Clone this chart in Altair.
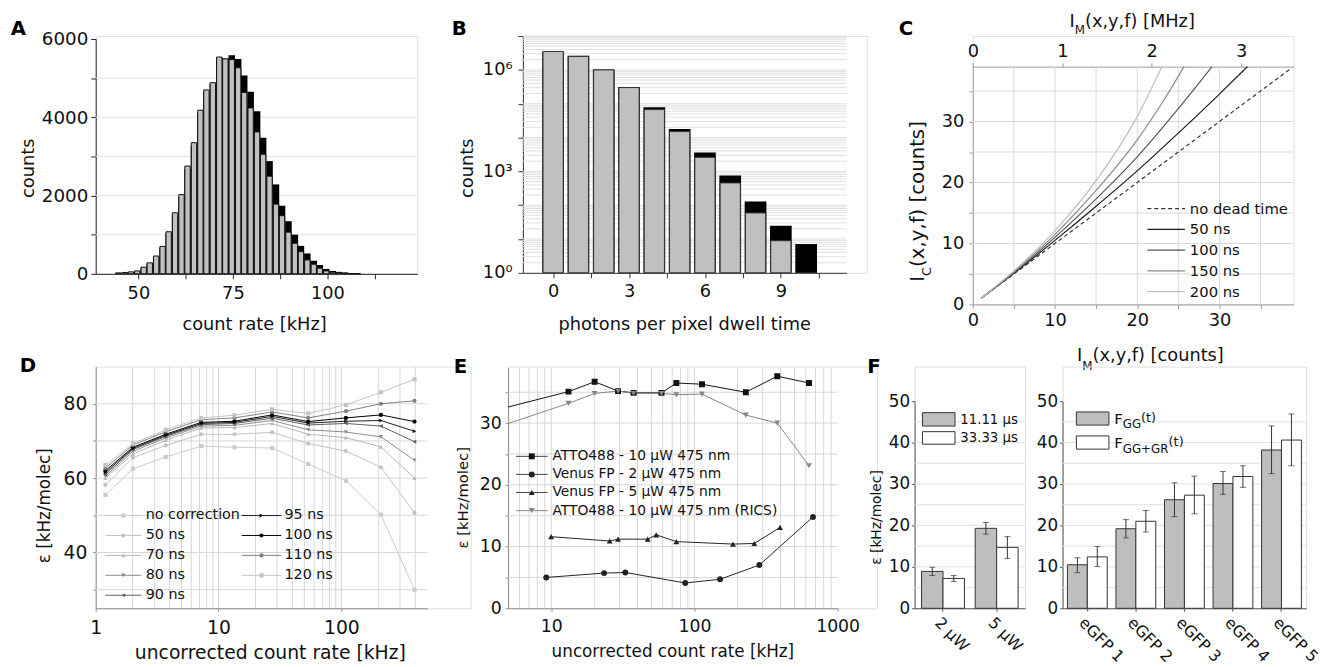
import altair as alt
import pandas as pd

FONT = "DejaVu Sans"

# ---------------- A: count-rate histogram ----------------
A_RATE = [44.7, 46.4, 48.0, 49.7, 51.4, 53.0, 54.7, 56.4, 58.0, 59.7,
          61.4, 63.0, 64.7, 66.4, 68.0, 69.7, 71.4, 73.0, 74.7, 76.4,
          78.0, 79.7, 81.4, 83.0, 84.7, 86.4, 88.0, 89.7, 91.4, 93.0,
          94.7, 96.4, 98.0, 99.7, 101.4, 103.0, 104.7, 106.4, 108.0]
A_GRAY = [25, 35, 50, 75, 170, 280, 455, 700, 1075, 1560,
          2025, 2755, 3350, 4180, 4700, 4885, 5540, 5490, 5475, 5265,
          4635, 4240, 3625, 3055, 2495, 1780, 1485, 1065, 780, 565,
          355, 245, 145, 75, 40, 25, 15, 8, 3]
A_BLACK = [20, 30, 45, 70, 160, 265, 430, 670, 1030, 1500,
           1960, 2680, 3280, 4120, 4650, 4860, 5520, 5500, 5585, 5490,
           5070, 4650, 4155, 3475, 2880, 2285, 1740, 1345, 1000, 715,
           520, 335, 225, 125, 75, 50, 35, 15, 8]
A_XTICKS = [50, 62.5, 75, 87.5, 100, 112.5]
A_YTICKS = [0, 1000, 2000, 3000, 4000, 5000, 6000]
A_GRID = [1000, 2000, 3000, 4000, 5000]

# ---------------- B: photons per pixel dwell time ----------------
B_PHOTONS = [0, 1, 2, 3, 4, 5, 6, 7, 8, 9, 10]
B_GRAY = [3.5e6, 2.5e6, 1.0e6, 3.0e5, 6.7e4, 1.5e4, 2.6e3, 455, 59, 8.9, None]
B_BLACK = [3.5e6, 2.6e6, 1.02e6, 3.1e5, 7.9e4, 1.8e4, 3.6e3, 760, 129, 24.5, 7.1]
B_BASE = 1  # bottom of the log axis (10^0)
B_XTICKS = [0, 1.5, 3, 4.5, 6, 7.5, 9, 10.5]
B_YTICKS = [1, 10, 100, 1000, 1e4, 1e5, 1e6, 1e7]
B_GRID = [m * 10 ** k for k in range(7) for m in range(1, 10) if m * 10 ** k > 1] + [1e7]

# ---------------- C: dead-time curves ----------------
C_SERIES = ["no dead time", "50 ns", "100 ns", "150 ns", "200 ns"]
C_IM = [[1, 38.8],
        [1, 5, 10, 15, 20, 25, 30, 33.4],
        [1, 5, 10, 15, 20, 25, 29.1],
        [1, 5, 10, 15, 20, 23, 25.7],
        [1, 5, 10, 15, 20, 23]]
C_IC = [[1, 38.8],
        [1.0, 5.1, 10.5, 16.1, 21.9, 28.1, 34.5, 39.0],
        [1.0, 5.2, 11.0, 17.3, 24.2, 32.1, 39.0],
        [1.0, 5.35, 11.5, 18.7, 27.0, 33.0, 39.0],
        [1.0, 5.5, 12.1, 20.3, 30.8, 39.0]]
C_COLORS = ["#333333", "#1a1a1a", "#555555", "#8a8a8a", "#bdbdbd"]
C_TICKS = [0, 5, 10, 15, 20, 25, 30, 35]
C_MHZ_TICKS = [0, 0.5, 1, 1.5, 2, 2.5, 3, 3.5]
C_GRID = [5, 10, 15, 20, 25, 30, 35]

# ---------------- D: brightness vs count rate, dead-time corrections ----------------
D_RATE = [1.20, 2.01, 3.72, 7.23, 13.5, 27.3, 53.7, 109, 210, 394]
D_SERIES = ["no correction", "50 ns", "70 ns", "80 ns", "90 ns",
            "95 ns", "100 ns", "110 ns", "120 ns"]
D_EPS = [
    [55.5, 62.5, 65.7, 68.6, 68.3, 68.1, 63.8, 59.3, 50.2, 30.0],
    [58.2, 65.5, 68.8, 71.8, 71.8, 72.3, 69.3, 67.3, 62.9, 50.7],
    [60.0, 66.5, 70.2, 73.5, 73.6, 74.7, 71.8, 70.9, 68.4, 60.0],
    [60.5, 67.2, 70.8, 74.0, 74.2, 75.5, 73.0, 72.4, 71.1, 64.8],
    [61.0, 67.7, 71.2, 74.4, 74.7, 76.1, 74.3, 74.7, 74.0, 69.8],
    [61.5, 68.0, 71.5, 74.7, 75.0, 76.6, 74.8, 75.3, 75.5, 72.6],
    [62.0, 68.3, 71.8, 75.0, 75.3, 77.0, 75.2, 76.2, 77.0, 75.2],
    [62.7, 68.9, 72.5, 75.7, 76.2, 77.8, 76.2, 78.0, 80.0, 80.8],
    [63.5, 69.3, 73.0, 76.2, 76.9, 78.5, 77.4, 79.7, 83.1, 86.6],
]
D_COLORS = ["#cbcbcb", "#c2c2c2", "#b8b8b8", "#8c8c8c", "#5e5e5e",
            "#1a1a1a", "#000000", "#808080", "#c4c4c4"]
D_SHAPES = ["square", "circle", "triangle-up", "triangle-down", "triangle-left",
            "triangle-right", "circle", "circle", "square"]
D_VGRID = [2, 3, 4, 5, 6, 7, 8, 9, 10, 20, 30, 40, 50, 60, 70, 80, 90, 100, 200, 300, 400]
D_HGRID = [30, 40, 50, 60, 70, 80]

# ---------------- E: brightness of dyes / FPs ----------------
E_SERIES = ["ATTO488 - 10 µW 475 nm", "Venus FP - 2 µW 475 nm",
            "Venus FP - 5 µW 475 nm", "ATTO488 - 10 µW 475 nm (RICS)"]
E_RATE = [
    [3.0, 13.2, 20.1, 29.3, 37.6, 58.9, 74.8, 113, 228.6, 379, 631],
    [9.24, 23.4, 32.9, 86.3, 151, 284, 673],
    [10.0, 25.6, 29.3, 47.2, 54.1, 74.8, 185.8, 262, 396],
    [3.0, 13.2, 20.1, 29.3, 37.6, 58.9, 74.8, 113, 228.6, 379, 631],
]
E_EPS = [
    [31.3, 35.1, 36.7, 35.2, 34.9, 34.9, 36.5, 36.3, 35.0, 37.6, 36.5],
    [5.0, 5.7, 5.8, 4.1, 4.7, 7.0, 14.8],
    [11.6, 10.9, 11.2, 11.2, 11.9, 10.8, 10.4, 10.5, 13.1],
    [28.2, 33.2, 34.8, 35.2, 34.8, 34.8, 34.6, 34.7, 31.3, 30.0, 23.1],
]
E_COLORS = ["#111111", "#222222", "#222222", "#858585"]
E_SHAPES = ["square", "circle", "triangle-up", "triangle-down"]
E_VGRID = [6, 7, 8, 9, 10, 20, 30, 40, 50, 60, 70, 80, 90,
           100, 200, 300, 400, 500, 600, 700, 800, 900]
E_HGRID = [5, 10, 15, 20, 25, 30, 35]
E_YTICKS = [0, 5, 10, 15, 20, 25, 30, 35]

# ---------------- F: bar charts ----------------
F1_CATS = ["2 µW", "5 µW"]
F1_LEGEND = ["11.11 µs", "33.33 µs"]
F1_G = [8.9, 19.3]
F1_G_LO = [7.9, 17.9]
F1_G_HI = [9.9, 20.7]
F1_W = [7.2, 14.7]
F1_W_LO = [6.5, 12.0]
F1_W_HI = [7.9, 17.3]

F2_CATS = ["eGFP 1", "eGFP 2", "eGFP 3", "eGFP 4", "eGFP 5"]
F2_G = [10.5, 19.2, 26.2, 30.1, 38.2]
F2_G_LO = [8.6, 17.0, 22.1, 27.5, 32.5]
F2_G_HI = [12.2, 21.4, 30.3, 33.0, 44.0]
F2_W = [12.4, 21.0, 27.3, 31.8, 40.6]
F2_W_LO = [10.1, 18.4, 22.8, 29.2, 34.4]
F2_W_HI = [14.9, 23.6, 31.9, 34.4, 46.9]
F_YTICKS = [0, 10, 20, 30, 40, 50]
F_GRID = [5, 10, 15, 20, 25, 30, 35, 40, 45]

# ---------------- helpers ----------------
ONE = pd.DataFrame({"k": [0]})


def T(s, x, y, size, align="left", baseline="alphabetic", angle=0, bold=False, color="#111111"):
    kw = dict(text=s, align=align, baseline=baseline, fontSize=size, font=FONT, color=color)
    if angle:
        kw["angle"] = angle
    if bold:
        kw["fontWeight"] = "bold"
    return alt.Chart(ONE).mark_text(**kw).encode(x=alt.value(x), y=alt.value(y))


def HL(x1, x2, y, color, width=1.0, dash=None):
    kw = dict(color=color, strokeWidth=width)
    if dash:
        kw["strokeDash"] = dash
    return alt.Chart(ONE).mark_rule(**kw).encode(x=alt.value(x1), x2=alt.value(x2), y=alt.value(y))


def PT(x, y, shape, color, size):
    return alt.Chart(ONE).mark_point(shape=shape, filled=True, size=size, color=color,
                                     opacity=1).encode(x=alt.value(x), y=alt.value(y))


def RECT(x1, x2, y1, y2, fill):
    return alt.Chart(ONE).mark_rect(fill=fill, stroke="#333333", strokeWidth=1).encode(
        x=alt.value(x1), x2=alt.value(x2), y=alt.value(y1), y2=alt.value(y2))


def AX(size, values=None, expr=None, color="#444444", tick=4, pad=4, fmt=None, **kw):
    d = dict(labelFontSize=size, labelFont=FONT, labelColor="#111111", domainColor=color,
             tickColor=color, tickSize=tick, labelPadding=pad, grid=False, title=None,
             labelFlush=False, labelOverlap=False, domainWidth=1, tickWidth=1)
    if values is not None:
        d["values"] = values
    if expr:
        d["labelExpr"] = expr
    if fmt:
        d["format"] = fmt
    d.update(kw)
    return alt.Axis(**d)


def vgrid(vals, xscale, xaxis, y1, y2, color):
    return alt.Chart(pd.DataFrame({"g": vals})).mark_rule(color=color, strokeWidth=1).encode(
        x=alt.X("g:Q", scale=xscale, axis=xaxis), y=alt.value(y1), y2=alt.value(y2))


def hgrid(vals, yscale, yaxis, x1, x2, color):
    return alt.Chart(pd.DataFrame({"g": vals})).mark_rule(color=color, strokeWidth=1).encode(
        y=alt.Y("g:Q", scale=yscale, axis=yaxis), x=alt.value(x1), x2=alt.value(x2))


# ================= Panel A =================
ax_ = alt.Scale(domain=[40, 122.5], nice=False, zero=False)
ay_ = alt.Scale(domain=[0, 6000], range=[241, 3], nice=False, zero=False)
AXA_X = AX(18, A_XTICKS, "datum.value % 25 == 0 ? datum.label : ''", color="#222222", tick=5, pad=6)
AXA_Y = AX(18.5, A_YTICKS, "datum.value % 2000 == 0 ? datum.label : ''", color="#222222",
           tick=5, pad=3, fmt="d")
dfA = pd.DataFrame({"rate": A_RATE, "gray": A_GRAY, "black": A_BLACK})
A = alt.layer(
    hgrid(A_GRID, ay_, AXA_Y, 0, 326, "#e3e3e3"),
    alt.Chart(dfA).mark_bar(orient="vertical", size=6.6, fill="#000000").encode(
        x=alt.X("rate:Q", scale=ax_, axis=AXA_X),
        y=alt.Y("black:Q", scale=ay_, axis=AXA_Y)),
    alt.Chart(dfA).mark_bar(orient="vertical", size=5.4, fill="#c0c0c0", stroke="#111111",
                            strokeWidth=1).encode(
        x=alt.X("rate:Q", scale=ax_, axis=AXA_X),
        y=alt.Y("gray:Q", scale=ay_, axis=AXA_Y)),
    T("A", -86, -1, 20, bold=True, color="#000000"),
    T("counts", -68, 134, 18, align="center", baseline="middle", angle=270),
    T("count rate [kHz]", 161, 293, 18, align="center", baseline="middle"),
).properties(width=326, height=241)

# ================= Panel B =================
bx = alt.Scale(domain=[-1, 11.4], range=[0, 328], nice=False, zero=False)
by = alt.Scale(type="log", domain=[1, 1e7], nice=False)
AXB_X = AX(18, B_XTICKS, "datum.value % 3 == 0 ? datum.label : ''", color="#333333", tick=5, pad=5)
AXB_Y = AX(18, B_YTICKS,
           "datum.value == 1 ? '10⁰' : datum.value == 1000 ? '10³' : datum.value == 1000000 ? '10⁶' : ''",
           color="#333333", tick=5, pad=6)
dfB = pd.DataFrame({"n": B_PHOTONS, "gray": B_GRAY, "black": B_BLACK})
dfB["base"] = B_BASE
dfBg = dfB.dropna()
B = alt.layer(
    hgrid(B_GRID, by, AXB_Y, 0, 328, "#e0e0e0"),
    alt.Chart(dfB).mark_bar(orient="vertical", size=22, fill="#000000").encode(
        x=alt.X("n:Q", scale=bx, axis=AXB_X),
        y=alt.Y("black:Q", scale=by, axis=AXB_Y),
        y2=alt.Y2("base:Q")),
    alt.Chart(dfBg).mark_bar(orient="vertical", size=20.5, fill="#c0c0c0", stroke="#333333",
                             strokeWidth=1).encode(
        x=alt.X("n:Q", scale=bx, axis=AXB_X),
        y=alt.Y("gray:Q", scale=by, axis=AXB_Y),
        y2=alt.Y2("base:Q")),
    T("B", -72, -1, 20, bold=True, color="#000000"),
    T("counts", -56, 134, 18, align="center", baseline="middle", angle=270),
    T("photons per pixel dwell time", 164, 293, 18, align="center", baseline="middle"),
).properties(width=349, height=240)

# ================= Panel C =================
cx = alt.Scale(domain=[0, 39], nice=False, zero=False)
cy = alt.Scale(domain=[0, 39], range=[272, 31], nice=False, zero=False)
AXC_X = AX(18, C_TICKS, "datum.value % 10 == 0 ? datum.label : ''", color="#9a9a9a",
           tick=4, pad=3, orient="bottom")
AXC_Y = AX(18, C_TICKS, "datum.value % 10 == 0 ? datum.label : ''", color="#9a9a9a",
           tick=4, pad=5)
c_layers = [vgrid(C_GRID, cx, AXC_X, 31, 272, "#d8d8d8"),
            hgrid(C_GRID, cy, AXC_Y, 0, 325, "#d8d8d8")]
for i, (name, xs, ys, col) in enumerate(zip(C_SERIES, C_IM, C_IC, C_COLORS)):
    dfc = pd.DataFrame({"g": xs, "ic": ys})
    kw = dict(color=col, strokeWidth=1.2, interpolate="monotone")
    if i == 0:
        kw["strokeDash"] = [4, 3]
    c_layers.append(alt.Chart(dfc).mark_line(**kw).encode(
        x=alt.X("g:Q", scale=cx, axis=AXC_X), y=alt.Y("ic:Q", scale=cy, axis=AXC_Y)))
for i, (name, col) in enumerate(zip(C_SERIES, C_COLORS)):
    yy = 175 + 21 * i
    c_layers.append(HL(177, 215, yy, col, 1.2, [4, 3] if i == 0 else None))
    c_layers.append(T(name, 220, yy, 15, baseline="middle"))
c_layers += [
    T("C", -75, -1, 20, bold=True, color="#000000"),
    T("I", 98, -9, 18), T("M", 103.3, -2, 12), T("(x,y,f) [MHz]", 113.7, -9, 18),
    T("I", -49, 249, 20, angle=270), T("C", -42, 243.1, 13, angle=270),
    T("(x,y,f) [counts]", -49, 234, 20, angle=270),
]
c_main = alt.layer(*c_layers)
c_mhz = alt.Chart(pd.DataFrame({"mhz": [0.0, 3.583]})).mark_point(opacity=0).encode(
    x=alt.X("mhz:Q", scale=alt.Scale(domain=[0, 3.583], nice=False, zero=False),
            axis=AX(18, C_MHZ_TICKS, "datum.value % 1 == 0 ? datum.label : ''",
                    color="#9a9a9a", tick=4, pad=2, fmt="d", orient="top", offset=-31)))
C = alt.layer(c_main, c_mhz).resolve_scale(x="independent").properties(width=325, height=272)

# ================= Panel D =================
dx = alt.Scale(type="log", domain=[1, 500], range=[0, 336], nice=False)
dy = alt.Scale(domain=[25, 90], nice=False, zero=False)
AXD_X = AX(19, [1, 10, 100], None, color="#8a8a8a", tick=3, pad=8, fmt="d")
AXD_Y = AX(19, D_HGRID, "datum.value % 20 == 0 ? datum.label : ''", color="#8a8a8a", tick=3, pad=6)
rows = []
for s, vals in zip(D_SERIES, D_EPS):
    for xv, v in zip(D_RATE, vals):
        rows.append({"s": s, "g": xv, "eps": v})
dfD = pd.DataFrame(rows)
colD = alt.Color("s:N", scale=alt.Scale(domain=D_SERIES, range=D_COLORS), legend=None)
shD = alt.Shape("s:N", scale=alt.Scale(domain=D_SERIES, range=D_SHAPES), legend=None)
d_layers = [
    vgrid(D_VGRID, dx, AXD_X, 0, 245, "#d6d6d6"),
    hgrid(D_HGRID, dy, AXD_Y, 0, 336, "#d6d6d6"),
    alt.Chart(dfD).mark_line(strokeWidth=1).encode(
        x=alt.X("g:Q", scale=dx, axis=AXD_X), y=alt.Y("eps:Q", scale=dy, axis=AXD_Y), color=colD),
    alt.Chart(dfD).mark_point(filled=True, size=18, opacity=1).encode(
        x=alt.X("g:Q", scale=dx, axis=AXD_X), y=alt.Y("eps:Q", scale=dy, axis=AXD_Y),
        color=colD, shape=shD),
]
for i, (name, col, shp) in enumerate(zip(D_SERIES, D_COLORS, D_SHAPES)):
    if i < 5:
        lx1, lx2, mx, tx, yy = 9.7, 46.3, 28, 50.7, 151 + 20.2 * i
    else:
        lx1, lx2, mx, tx, yy = 148, 188, 168, 191.3, 151 + 20.2 * (i - 5)
    d_layers += [HL(lx1, lx2, yy, col, 1), PT(mx, yy, shp, col, 18),
                 T(name, tx, yy, 14.5, baseline="middle")]
d_layers += [
    T("D", -77, 6, 20, bold=True, color="#000000"),
    T("ε [kHz/molec]", -51, 141, 17, align="center", baseline="middle", angle=270),
    T("uncorrected count rate [kHz]", 177, 290, 19, align="center", baseline="middle"),
]
D = alt.layer(*d_layers).properties(width=380, height=245)

# ================= Panel E =================
ex = alt.Scale(type="log", domain=[5, 1000], range=[0, 334], nice=False)
ey = alt.Scale(domain=[0, 39], range=[245, 1], nice=False, zero=False)
AXE_X = AX(17.5, [10, 100, 1000], None, color="#8a8a8a", tick=3, pad=7, fmt="d")
AXE_Y = AX(17.5, E_YTICKS, "datum.value % 10 == 0 ? datum.label : ''", color="#8a8a8a",
           tick=3, pad=4)
rows = []
for s, xs, vs in zip(E_SERIES, E_RATE, E_EPS):
    for xv, v in zip(xs, vs):
        rows.append({"s": s, "g": xv, "eps": v})
dfE = pd.DataFrame(rows)
colE = alt.Color("s:N", scale=alt.Scale(domain=E_SERIES, range=E_COLORS), legend=None)
shE = alt.Shape("s:N", scale=alt.Scale(domain=E_SERIES, range=E_SHAPES), legend=None)
e_layers = [
    vgrid(E_VGRID, ex, AXE_X, 1, 245, "#d6d6d6"),
    hgrid(E_HGRID, ey, AXE_Y, 0, 334, "#d6d6d6"),
    alt.Chart(dfE).mark_line(strokeWidth=1, clip=True).encode(
        x=alt.X("g:Q", scale=ex, axis=AXE_X), y=alt.Y("eps:Q", scale=ey, axis=AXE_Y), color=colE),
    alt.Chart(dfE).mark_point(filled=True, size=36, opacity=1, clip=True).encode(
        x=alt.X("g:Q", scale=ex, axis=AXE_X), y=alt.Y("eps:Q", scale=ey, axis=AXE_Y),
        color=colE, shape=shE),
]
for i, (name, col, shp) in enumerate(zip(E_SERIES, E_COLORS, E_SHAPES)):
    yy = 91 + 18.33 * i
    lc = "#444444" if i < 3 else "#8a8a8a"
    e_layers += [HL(8, 40, yy, lc, 1), PT(24, yy, shp, col, 36),
                 T(name, 45, yy, 14, baseline="middle")]
e_layers += [
    T("E", -55, 7, 20, bold=True, color="#000000"),
    T("ε [kHz/molec]", -46, 133, 15, align="center", baseline="middle", angle=270),
    T("uncorrected count rate [kHz]", 167, 289.5, 17, align="center", baseline="middle"),
]
E = alt.layer(*e_layers).properties(width=374, height=245)

# ================= Panel F =================
fy = alt.Scale(domain=[0, 50], range=[245, 35], nice=False, zero=False)
foff = alt.Scale(domain=["g", "w"])
ffill = alt.Scale(domain=["g", "w"], range=["#bebebe", "#ffffff"])
AXF_Y = AX(17, F_YTICKS, None, color="#555555", tick=3, pad=2)
AXF_X = AX(16, None, None, color="#555555", tick=3, pad=3,
           labelAngle=45, labelAlign="left", labelBaseline="top")


def fpanel(cats, gv, glo, ghi, wv, wlo, whi, xscale, width, extra):
    rows = []
    for c, v, lo, hi in zip(cats, gv, glo, ghi):
        rows.append({"c": c, "s": "g", "v": v, "lo": lo, "hi": hi})
    for c, v, lo, hi in zip(cats, wv, wlo, whi):
        rows.append({"c": c, "s": "w", "v": v, "lo": lo, "hi": hi})
    df = pd.DataFrame(rows)
    X = alt.X("c:N", scale=xscale, axis=AXF_X)
    O = alt.XOffset("s:N", scale=foff)
    layers = [
        hgrid(F_GRID, fy, AXF_Y, 0, width, "#e2e2e2"),
        alt.Chart(df).mark_bar(stroke="#333333", strokeWidth=1).encode(
            x=X, xOffset=O, y=alt.Y("v:Q", scale=fy, axis=AXF_Y),
            fill=alt.Fill("s:N", scale=ffill, legend=None)),
        alt.Chart(df).mark_rule(color="#333333", strokeWidth=1).encode(
            x=X, xOffset=O, y=alt.Y("lo:Q", scale=fy, axis=AXF_Y), y2="hi:Q"),
        alt.Chart(df).mark_tick(color="#333333", thickness=1, size=6).encode(
            x=X, xOffset=O, y=alt.Y("hi:Q", scale=fy, axis=AXF_Y)),
        alt.Chart(df).mark_tick(color="#333333", thickness=1, size=6).encode(
            x=X, xOffset=O, y=alt.Y("lo:Q", scale=fy, axis=AXF_Y)),
    ]
    return alt.layer(*(layers + extra)).properties(width=width, height=245)


f1_extra = [
    RECT(8, 41, 46.7, 60.3, "#bebebe"), RECT(8, 41, 66, 78.7, "#ffffff"),
    T(F1_LEGEND[0], 46.3, 54.7, 13.5, baseline="middle"),
    T(F1_LEGEND[1], 46.3, 72.7, 13.5, baseline="middle"),
    T("F", -48, 7, 20, bold=True, color="#000000"),
    T("ε [kHz/molec]", -38, 153, 14, align="center", baseline="middle", angle=270),
    # bottom title of panel C (kept in this row so it does not push the rows apart)
    T("I", 164.7, -5.7, 18), T("M", 170, 3, 12), T("(x,y,f) [counts]", 180.4, -5.7, 18),
]
f2_extra = [
    RECT(14, 47, 46, 59.3, "#bebebe"), RECT(14, 47, 70.3, 83.7, "#ffffff"),
    T("F", 52.3, 58.3, 15), T("GG", 61, 62.7, 12), T("(t)", 79.6, 56.5, 13),
    T("F", 52.3, 82.7, 15), T("GG+GR", 61, 87.7, 12), T("(t)", 107.5, 81, 13),
]
F1 = fpanel(F1_CATS, F1_G, F1_G_LO, F1_G_HI, F1_W, F1_W_LO, F1_W_HI,
            alt.Scale(domain=F1_CATS, paddingInner=0.2, paddingOuter=0.13), 112, f1_extra)
F2 = fpanel(F2_CATS, F2_G, F2_G_LO, F2_G_HI, F2_W, F2_W_LO, F2_W_HI,
            alt.Scale(domain=F2_CATS, paddingInner=0.18, paddingOuter=0.1), 247, f2_extra)

# ================= layout =================
IND = dict(color="independent", shape="independent", fill="independent", xOffset="independent")
top = alt.hconcat(A, B, C, spacing=107, bounds="flush").resolve_scale(**IND)
bottom = alt.hconcat(D, E, F1, F2, spacing=38, bounds="flush").resolve_scale(**IND)
chart = alt.vconcat(top, bottom, spacing=11).resolve_scale(**IND).properties(
    padding={"left": 10, "top": 8, "right": 4, "bottom": 0},
    background="white",
).configure_view(stroke=None).configure(font=FONT)

chart.save("out.html", embed_options={"renderer": "svg", "actions": False})
